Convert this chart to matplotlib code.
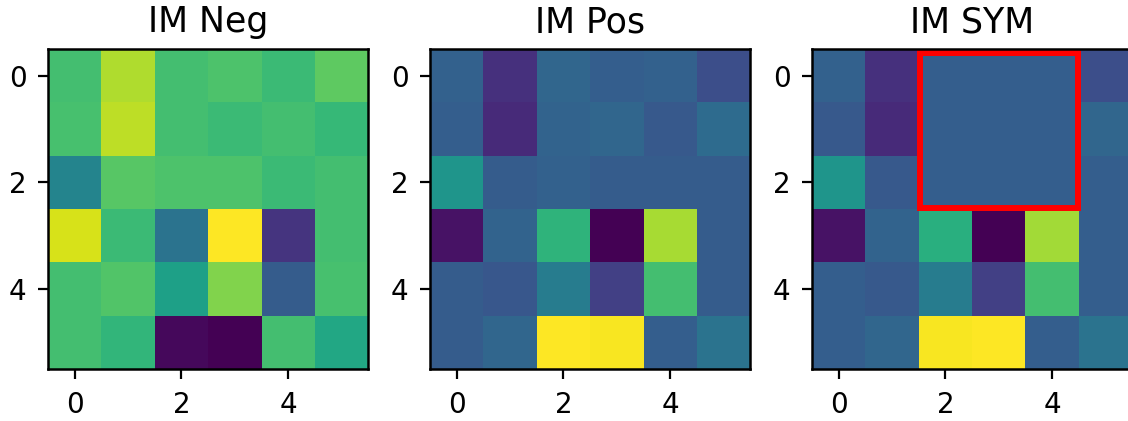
import matplotlib
matplotlib.use("Agg")
import matplotlib.pyplot as plt
from matplotlib.patches import Rectangle
import numpy as np

titles = ["IM Neg", "IM Pos", "IM SYM"]

im_neg = [
    [0.70, 0.88, 0.70, 0.72, 0.68, 0.75],
    [0.71, 0.90, 0.70, 0.68, 0.70, 0.67],
    [0.45, 0.74, 0.72, 0.72, 0.68, 0.70],
    [0.94, 0.68, 0.38, 1.00, 0.15, 0.70],
    [0.70, 0.73, 0.57, 0.81, 0.29, 0.71],
    [0.70, 0.66, 0.02, 0.00, 0.70, 0.60],
]

im_pos = [
    [0.31, 0.14, 0.33, 0.30, 0.31, 0.24],
    [0.30, 0.12, 0.32, 0.33, 0.28, 0.35],
    [0.52, 0.29, 0.31, 0.29, 0.29, 0.29],
    [0.05, 0.32, 0.65, 0.00, 0.87, 0.29],
    [0.29, 0.27, 0.42, 0.19, 0.70, 0.29],
    [0.29, 0.33, 1.00, 0.99, 0.30, 0.38],
]

im_sym = [
    [0.31, 0.14, 0.30, 0.30, 0.30, 0.24],
    [0.28, 0.12, 0.30, 0.30, 0.30, 0.33],
    [0.52, 0.28, 0.30, 0.30, 0.30, 0.30],
    [0.05, 0.32, 0.63, 0.00, 0.86, 0.30],
    [0.30, 0.28, 0.42, 0.19, 0.70, 0.30],
    [0.30, 0.33, 0.99, 1.00, 0.30, 0.38],
]

ticks = [0, 2, 4]

W, H = 1128, 421
fig = plt.figure(figsize=(W / 100, H / 100), dpi=100)

lefts = [48, 430, 812]
size = 320
bottom = H - 369

for left, title, data in zip(lefts, titles, [im_neg, im_pos, im_sym]):
    ax = fig.add_axes([left / W, bottom / H, size / W, size / H])
    ax.imshow(np.array(data), cmap="viridis", vmin=0, vmax=1, aspect="auto")
    ax.set_title(title, fontsize=25, pad=12)
    ax.set_xticks(ticks)
    ax.set_yticks(ticks)
    ax.tick_params(labelsize=20, length=7, width=1.6, pad=8.5)
    for s in ax.spines.values():
        s.set_linewidth(1.8)
    if title == "IM SYM":
        ax.add_patch(Rectangle((1.52, -0.42), 2.96, 2.9, fill=False,
                               edgecolor="red", linewidth=4.3))

fig.savefig("out.png", dpi=100)
